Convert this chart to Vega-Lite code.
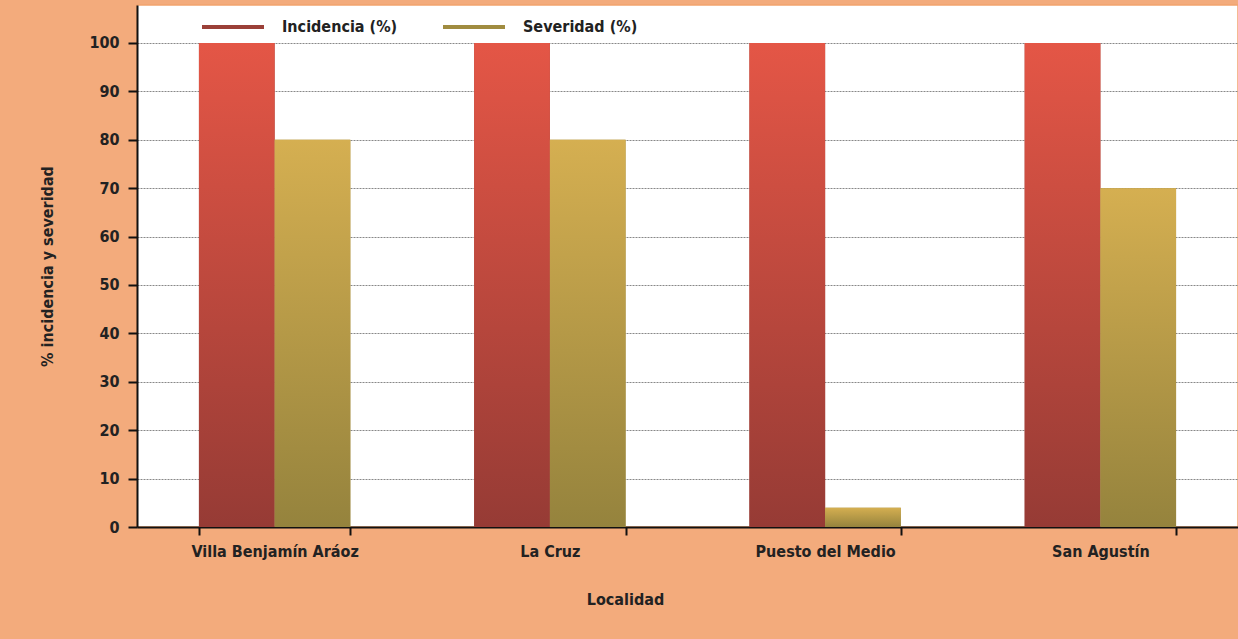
{
  "$schema": "https://vega.github.io/schema/vega-lite/v6.json",
  "autosize": "none",
  "width": 1101,
  "height": 522,
  "padding": {"left": 137, "top": 5, "right": 0, "bottom": 112},
  "background": "#f3ab7c",
  "config": {
    "view": {"fill": "white", "stroke": "#f2a46e", "strokeWidth": 1.5},
    "font": "DejaVu Sans Condensed",
    "axis": {
      "labelFont": "DejaVu Sans Condensed",
      "titleFont": "DejaVu Sans Condensed",
      "labelFontWeight": "bold",
      "titleFontWeight": "bold",
      "labelColor": "#222",
      "titleColor": "#222",
      "domainColor": "#111",
      "domainWidth": 2,
      "tickColor": "#111",
      "tickWidth": 2
    },
    "legend": {
      "labelFont": "DejaVu Sans Condensed",
      "labelFontWeight": "bold"
    }
  },
  "data": {
    "values": [
      {"localidad": "Villa Benjamín Aráoz", "serie": "Incidencia (%)", "valor": 100},
      {"localidad": "Villa Benjamín Aráoz", "serie": "Severidad (%)", "valor": 80},
      {"localidad": "La Cruz", "serie": "Incidencia (%)", "valor": 100},
      {"localidad": "La Cruz", "serie": "Severidad (%)", "valor": 80},
      {"localidad": "Puesto del Medio", "serie": "Incidencia (%)", "valor": 100},
      {"localidad": "Puesto del Medio", "serie": "Severidad (%)", "valor": 4},
      {"localidad": "San Agustín", "serie": "Incidencia (%)", "valor": 100},
      {"localidad": "San Agustín", "serie": "Severidad (%)", "valor": 70}
    ]
  },
  "encoding": {
    "x": {
      "field": "localidad",
      "type": "nominal",
      "sort": null,
      "scale": {"paddingInner": 0.45, "paddingOuter": 0.225},
      "axis": {
        "title": "Localidad",
        "labelAngle": 0,
        "labelFontSize": 16,
        "titleFontSize": 16,
        "tickBand": "extent",
        "tickSize": 8,
        "labelPadding": 8,
        "titleX": 488,
        "titleY": 72,
        "titleBaseline": "middle",
        "grid": false
      }
    },
    "xOffset": {"field": "serie", "type": "nominal", "scale": {"paddingInner": 0, "paddingOuter": 0}},
    "y": {
      "field": "valor",
      "type": "quantitative",
      "scale": {"domain": [0, 107.85], "nice": false, "zero": true},
      "axis": {
        "title": "% incidencia y severidad",
        "values": [0, 10, 20, 30, 40, 50, 60, 70, 80, 90, 100],
        "labelFontSize": 16,
        "titleFontSize": 16,
        "tickSize": 9,
        "labelPadding": 9,
        "grid": true,
        "gridColor": "#888",
        "gridDash": [2, 1],
        "gridWidth": 1,
        "titleX": -90,
        "titleBaseline": "middle"
      }
    }
  },
  "layer": [
    {
      "mark": {"type": "bar", "strokeWidth": 0},
      "encoding": {
        "color": {
          "field": "serie",
          "type": "nominal",
          "scale": {"domain": ["Incidencia (%)", "Severidad (%)"], "range": ["#9b4038", "#a08c40"]},
          "legend": {
            "title": null,
            "orient": "none",
            "legendX": 63,
            "legendY": -11,
            "direction": "horizontal",
            "symbolType": "stroke",
            "symbolSize": 3844,
            "symbolStrokeWidth": 4,
            "labelFontSize": 16,
            "labelOffset": 16,
            "columnPadding": 37,
            "labelColor": "#222",
            "encode": {
              "symbols": {"update": {"stroke": {"scale": "color", "field": "value"}, "strokeWidth": {"value": 4}}}
            }
          }
        }
      }
    },
    {
      "mark": {"type": "bar", "strokeWidth": 0},
      "encoding": {
        "color": {
          "condition": {
            "test": "datum.serie === 'Incidencia (%)'",
            "value": {
              "gradient": "linear", "x1": 0, "y1": 0, "x2": 0, "y2": 1,
              "stops": [{"offset": 0, "color": "#e45646"}, {"offset": 1, "color": "#963b35"}]
            }
          },
          "value": {
            "gradient": "linear", "x1": 0, "y1": 0, "x2": 0, "y2": 1,
            "stops": [{"offset": 0, "color": "#d5af51"}, {"offset": 1, "color": "#95833d"}]
          }
        }
      }
    }
  ]
}
